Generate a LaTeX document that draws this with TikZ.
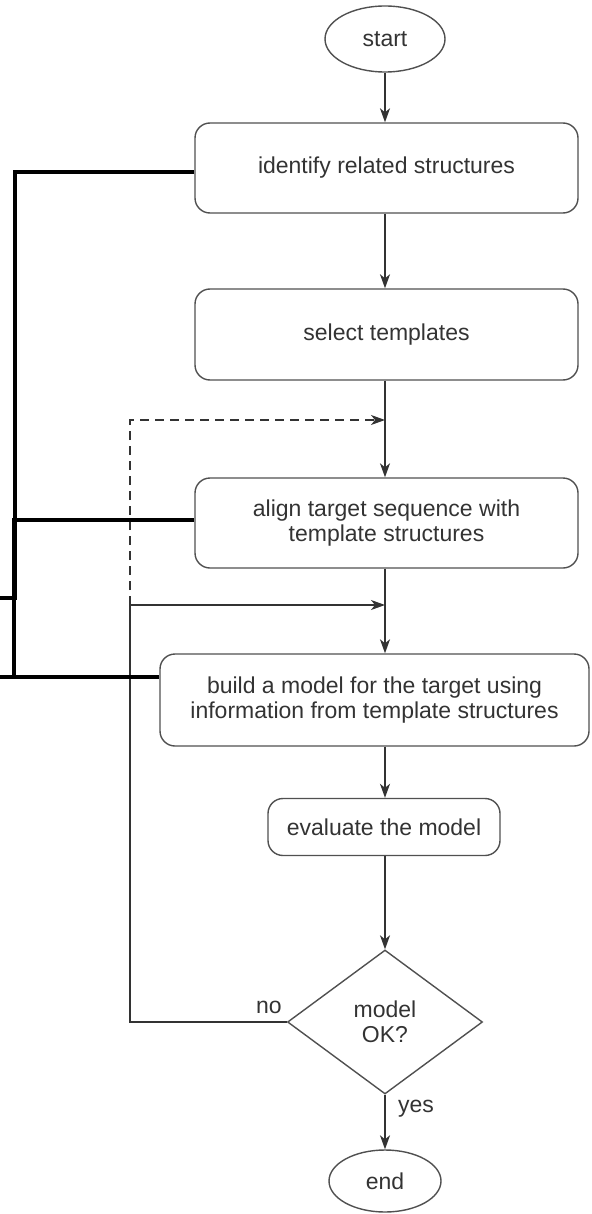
\documentclass[tikz,border=0pt]{standalone}
\usepackage{fontspec}
\setmainfont{Liberation Sans}
\usetikzlibrary{arrows.meta,positioning,shapes.geometric}
\definecolor{edge}{HTML}{505050}
\definecolor{ink}{HTML}{333333}
\begin{document}
\begin{tikzpicture}[x=1pt,y=-1pt,
  font=\fontsize{23}{25}\selectfont,
  stepbox/.style={draw=edge,line width=1.4pt,rounded corners=15pt,align=center,text=ink,inner sep=0pt},
  term/.style={draw=edge,line width=1.4pt,ellipse,text=ink,inner sep=0pt},
  decide/.style={draw=edge,line width=1.4pt,diamond,align=center,text=ink,inner sep=0pt,minimum width=195pt,minimum height=144pt},
  flow/.style={draw=ink,line width=1.3pt,-{Stealth[length=14pt,width=10pt,inset=4pt]}},
  lbl/.style={text=ink,inner sep=0pt},
  bracket/.style={draw=black,line width=3.6pt}]
\useasboundingbox (0,0) rectangle (591,1214);
% terminals
\node[term,minimum width=120pt,minimum height=66pt] (start) at (385,39) {start};
\node[term,minimum width=112pt,minimum height=62pt] (end) at (385,1181) {end};
% steps
\node[stepbox,minimum width=383pt,minimum height=90pt] (ident) at (386.5,168) {identify related structures};
\node[stepbox,minimum width=383pt,minimum height=91pt] (select) at (386.5,334.5) {select templates};
\node[stepbox,minimum width=383pt,minimum height=90pt] (align) at (386.5,523) {align target sequence with\\template structures};
\node[stepbox,minimum width=429pt,minimum height=92pt] (build) at (374.5,700) {build a model for the target using\\information from template structures};
\node[stepbox,minimum width=232pt,minimum height=57pt] (eval) at (384,827) {evaluate the model};
\node[decide] (check) at (385,1022) {model\\OK?};
\node[lbl,above left=8pt and 5pt of check.west] (no) {no};
\node[lbl,below right=5pt and 13pt of check.south] (yes) {yes};
% merge points on the spine
\coordinate (m1) at (385,420);
\coordinate (m2) at (385,605);
\coordinate (loopTop) at (130,420);
\coordinate (loopMid) at (130,605);
% main flow
\draw[flow] (start) -- (start |- ident.north);
\draw[flow] (ident.south -| start) -- (start |- select.north);
\draw[flow] (select.south -| start) -- (start |- align.north);
\draw[flow] (align.south -| start) -- (start |- build.north);
\draw[flow] (build.south -| start) -- (start |- eval.north);
\draw[flow] (eval.south -| start) -- (check.north);
\draw[flow] (check.south) -- (end.north);
% feedback loops
\draw[flow] (check.west) -| (loopMid) -- (m2);
\draw[flow,dashed,dash pattern=on 9pt off 6pt] (loopMid) -- (loopTop) -- (m1);
% bracket on the left
\coordinate (b1) at (15,598);
\coordinate (b0) at (0,598);
\coordinate (b3) at (14,520);
\coordinate (b4) at (14,677);
\coordinate (b2) at (0,677);
\coordinate (b5) at (15,172);
\draw[bracket] (ident.west |- b5) -- (b5) -- (b1) -- (b0);
\draw[bracket] (align.west |- b3) -- (b3) -- (b4);
\draw[bracket] (b2) -- (build.west |- b2);
\end{tikzpicture}
\end{document}
